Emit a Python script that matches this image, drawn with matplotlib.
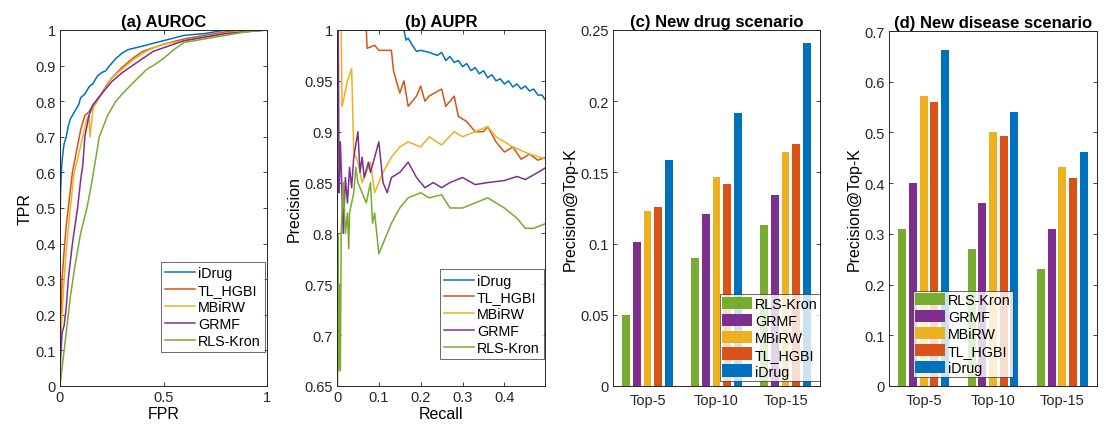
import matplotlib
matplotlib.use("Agg")
import matplotlib.pyplot as plt
import numpy as np

plt.rcParams['font.family'] = ['Liberation Sans', 'DejaVu Sans']

# MATLAB default colours
C_BLUE = (0.0, 0.447, 0.741)
C_ORANGE = (0.85, 0.325, 0.098)
C_YELLOW = (0.929, 0.694, 0.125)
C_PURPLE = (0.494, 0.184, 0.556)
C_GREEN = (0.466, 0.674, 0.188)

# ---------------- ROC data (FPR, TPR) ----------------
roc_idrug_fpr = [0, 0, 0.003, 0.008, 0.015, 0.02, 0.03, 0.04, 0.05, 0.07, 0.09, 0.1, 0.12, 0.14, 0.16, 0.18, 0.2, 0.22, 0.24, 0.27, 0.3, 0.33, 0.4, 0.5, 0.6, 0.7, 0.8, 1.0]
roc_idrug_tpr = [0, 0.45, 0.55, 0.62, 0.66, 0.68, 0.7, 0.73, 0.75, 0.77, 0.79, 0.81, 0.82, 0.84, 0.85, 0.87, 0.88, 0.885, 0.9, 0.92, 0.935, 0.945, 0.955, 0.97, 0.985, 0.99, 1.0, 1.0]

roc_tl_fpr = [0, 0.003, 0.01, 0.02, 0.03, 0.04, 0.05, 0.06, 0.08, 0.1, 0.12, 0.14, 0.16, 0.18, 0.2, 0.23, 0.25, 0.3, 0.35, 0.4, 0.45, 0.5, 0.6, 0.7, 0.8, 1.0]
roc_tl_tpr = [0, 0.15, 0.3, 0.38, 0.45, 0.5, 0.55, 0.6, 0.66, 0.72, 0.76, 0.77, 0.79, 0.805, 0.82, 0.85, 0.865, 0.895, 0.92, 0.94, 0.95, 0.96, 0.975, 0.985, 0.995, 1.0]

roc_mb_fpr = [0, 0, 0.01, 0.02, 0.03, 0.05, 0.068, 0.09, 0.11, 0.13, 0.14, 0.145, 0.16, 0.2, 0.25, 0.3, 0.35, 0.4, 0.45, 0.5, 0.6, 0.7, 0.8, 0.9, 1.0]
roc_mb_tpr = [0, 0.1, 0.2, 0.3, 0.38, 0.5, 0.6, 0.65, 0.7, 0.75, 0.76, 0.7, 0.78, 0.82, 0.865, 0.89, 0.915, 0.935, 0.95, 0.96, 0.97, 0.98, 0.99, 1.0, 1.0]

roc_grmf_fpr = [0, 0.003, 0.01, 0.02, 0.03, 0.04, 0.06, 0.085, 0.1, 0.11, 0.12, 0.14, 0.16, 0.2, 0.25, 0.3, 0.35, 0.4, 0.45, 0.5, 0.6, 0.7, 0.8, 1.0]
roc_grmf_tpr = [0, 0.08, 0.15, 0.17, 0.22, 0.3, 0.4, 0.5, 0.58, 0.62, 0.7, 0.76, 0.79, 0.82, 0.855, 0.88, 0.9, 0.92, 0.94, 0.95, 0.97, 0.98, 0.99, 1.0]

roc_rls_fpr = [0, 0.01, 0.03, 0.05, 0.07, 0.1, 0.13, 0.15, 0.17, 0.19, 0.23, 0.27, 0.3, 0.35, 0.42, 0.45, 0.5, 0.55, 0.6, 0.7, 0.8, 0.9, 1.0]
roc_rls_tpr = [0, 0.05, 0.15, 0.25, 0.33, 0.43, 0.5, 0.56, 0.63, 0.7, 0.76, 0.8, 0.82, 0.85, 0.89, 0.9, 0.92, 0.945, 0.965, 0.975, 0.985, 0.995, 1.0]

# ---------------- PR data (Recall, Precision) ----------------
pr_idrug_rec = [0, 0.16, 0.165, 0.17, 0.18, 0.19, 0.2, 0.22, 0.24, 0.25, 0.26, 0.27, 0.28, 0.29, 0.3, 0.31, 0.32, 0.33, 0.34, 0.35, 0.36, 0.37, 0.38, 0.39, 0.4, 0.41, 0.42, 0.43, 0.44, 0.45, 0.46, 0.47, 0.48, 0.49, 0.5]
pr_idrug_pre = [1.0, 1.0, 0.99, 0.992, 0.985, 0.979, 0.98, 0.978, 0.975, 0.978, 0.97, 0.974, 0.968, 0.97, 0.964, 0.967, 0.96, 0.963, 0.957, 0.96, 0.953, 0.956, 0.95, 0.952, 0.947, 0.95, 0.944, 0.947, 0.942, 0.945, 0.94, 0.942, 0.936, 0.936, 0.93]

pr_tl_rec = [0.0, 0.07, 0.072, 0.09, 0.1, 0.13, 0.135, 0.15, 0.16, 0.17, 0.19, 0.2, 0.21, 0.22, 0.25, 0.26, 0.28, 0.29, 0.31, 0.33, 0.35, 0.36, 0.38, 0.4, 0.42, 0.44, 0.46, 0.48, 0.5]
pr_tl_pre = [1.0, 1.0, 0.982, 0.985, 0.98, 0.98, 0.96, 0.938, 0.95, 0.925, 0.935, 0.945, 0.93, 0.935, 0.942, 0.925, 0.935, 0.915, 0.91, 0.9, 0.9, 0.905, 0.89, 0.88, 0.885, 0.873, 0.878, 0.872, 0.875]

pr_mb_rec = [0.01, 0.012, 0.015, 0.025, 0.035, 0.04, 0.05, 0.06, 0.07, 0.08, 0.09, 0.1, 0.11, 0.13, 0.15, 0.17, 0.2, 0.22, 0.25, 0.28, 0.3, 0.33, 0.36, 0.38, 0.42, 0.46, 0.5]
pr_mb_pre = [1.0, 0.925, 0.93, 0.95, 0.962, 0.88, 0.87, 0.85, 0.86, 0.87, 0.84, 0.85, 0.86, 0.875, 0.885, 0.89, 0.885, 0.895, 0.887, 0.9, 0.895, 0.9, 0.905, 0.895, 0.885, 0.878, 0.873]

pr_grmf_rec = [0.003, 0.005, 0.008, 0.015, 0.02, 0.025, 0.03, 0.035, 0.04, 0.05, 0.055, 0.06, 0.065, 0.075, 0.08, 0.09, 0.1, 0.11, 0.12, 0.13, 0.15, 0.17, 0.19, 0.21, 0.23, 0.25, 0.27, 0.3, 0.33, 0.36, 0.4, 0.43, 0.45, 0.48, 0.5]
pr_grmf_pre = [1.0, 0.84, 0.89, 0.8, 0.855, 0.83, 0.865, 0.845, 0.875, 0.9, 0.86, 0.875, 0.855, 0.87, 0.86, 0.875, 0.89, 0.85, 0.84, 0.855, 0.86, 0.87, 0.855, 0.845, 0.85, 0.845, 0.85, 0.855, 0.848, 0.85, 0.852, 0.856, 0.853, 0.86, 0.865]

pr_rls_rec = [0.0, 0.001, 0.002, 0.003, 0.006, 0.008, 0.01, 0.015, 0.02, 0.025, 0.028, 0.03, 0.04, 0.045, 0.05, 0.06, 0.07, 0.08, 0.085, 0.09, 0.1, 0.11, 0.13, 0.15, 0.17, 0.2, 0.22, 0.25, 0.27, 0.3, 0.33, 0.36, 0.38, 0.4, 0.43, 0.45, 0.47, 0.5]
pr_rls_pre = [1.0, 0.65, 0.8, 0.665, 0.75, 0.665, 0.8, 0.85, 0.8, 0.82, 0.785, 0.82, 0.84, 0.865, 0.85, 0.84, 0.83, 0.85, 0.81, 0.82, 0.78, 0.79, 0.81, 0.825, 0.835, 0.84, 0.835, 0.838, 0.825, 0.825, 0.83, 0.835, 0.83, 0.825, 0.815, 0.805, 0.805, 0.81]

# ---------------- Bar data ----------------
bar_groups = ['Top-5', 'Top-10', 'Top-15']
bar_methods = ['RLS-Kron', 'GRMF', 'MBiRW', 'TL_HGBI', 'iDrug']
drug_vals = {
    'RLS-Kron': [0.05, 0.09, 0.113],
    'GRMF': [0.101, 0.121, 0.134],
    'MBiRW': [0.123, 0.147, 0.164],
    'TL_HGBI': [0.126, 0.142, 0.170],
    'iDrug': [0.159, 0.192, 0.241],
}
disease_vals = {
    'RLS-Kron': [0.31, 0.27, 0.231],
    'GRMF': [0.40, 0.36, 0.31],
    'MBiRW': [0.572, 0.50, 0.432],
    'TL_HGBI': [0.56, 0.493, 0.41],
    'iDrug': [0.662, 0.541, 0.462],
}

method_colors = {'iDrug': C_BLUE, 'TL_HGBI': C_ORANGE, 'MBiRW': C_YELLOW,
                 'GRMF': C_PURPLE, 'RLS-Kron': C_GREEN}

fig = plt.figure(figsize=(11.06, 4.31), dpi=100)
W, H = 1106, 431

def add_ax(l, r, t, b):
    return fig.add_axes([l / W, 1 - b / H, (r - l) / W, (b - t) / H])

TICKFS = 10.5
TFS = 12
LFS = 11.5
LEGFS = 10.3

def style(ax):
    ax.tick_params(direction='in', top=True, right=True, length=3, width=0.6,
                   labelsize=TICKFS, colors='#262626', pad=3)
    for s in ax.spines.values():
        s.set_linewidth(0.7)
        s.set_color('#262626')

def line_legend(ax, anchor):
    leg = ax.legend(loc='lower right', bbox_to_anchor=anchor, fontsize=LEGFS,
                    frameon=True, fancybox=False, handlelength=2.1, handletextpad=0.2,
                    borderpad=0.3, labelspacing=0.2, borderaxespad=0.0)
    leg.get_frame().set_edgecolor('#262626')
    leg.get_frame().set_linewidth(0.6)

# (a) AUROC
ax1 = add_ax(60, 267, 31, 387)
ax1.plot(roc_idrug_fpr, roc_idrug_tpr, color=C_BLUE, lw=1.1, label='iDrug')
ax1.plot(roc_tl_fpr, roc_tl_tpr, color=C_ORANGE, lw=1.1, label='TL_HGBI')
ax1.plot(roc_mb_fpr, roc_mb_tpr, color=C_YELLOW, lw=1.1, label='MBiRW')
ax1.plot(roc_grmf_fpr, roc_grmf_tpr, color=C_PURPLE, lw=1.1, label='GRMF')
ax1.plot(roc_rls_fpr, roc_rls_tpr, color=C_GREEN, lw=1.1, label='RLS-Kron')
ax1.set_xlim(0, 1)
ax1.set_ylim(0, 1)
ax1.set_xticks([0, 0.5, 1])
ax1.set_xticklabels(['0', '0.5', '1'])
ax1.set_yticks(np.arange(0, 1.01, 0.1))
ax1.set_yticklabels(['0', '0.1', '0.2', '0.3', '0.4', '0.5', '0.6', '0.7', '0.8', '0.9', '1'])
ax1.set_xlabel('FPR', fontsize=LFS, labelpad=1)
ax1.set_ylabel('TPR', fontsize=LFS, labelpad=2)
ax1.set_title('(a) AUROC', fontsize=TFS, fontweight='bold', pad=3)
style(ax1)
line_legend(ax1, (0.99, 0.095))

# (b) AUPR
ax2 = add_ax(337, 545, 31, 387)
ax2.plot(pr_idrug_rec, pr_idrug_pre, color=C_BLUE, lw=1.1, label='iDrug')
ax2.plot(pr_tl_rec, pr_tl_pre, color=C_ORANGE, lw=1.1, label='TL_HGBI')
ax2.plot(pr_mb_rec, pr_mb_pre, color=C_YELLOW, lw=1.1, label='MBiRW')
ax2.plot(pr_grmf_rec, pr_grmf_pre, color=C_PURPLE, lw=1.1, label='GRMF')
ax2.plot(pr_rls_rec, pr_rls_pre, color=C_GREEN, lw=1.1, label='RLS-Kron')
ax2.set_xlim(0, 0.497)
ax2.set_ylim(0.65, 1)
ax2.set_xticks([0, 0.1, 0.2, 0.3, 0.4])
ax2.set_xticklabels(['0', '0.1', '0.2', '0.3', '0.4'])
ax2.set_yticks([0.65, 0.7, 0.75, 0.8, 0.85, 0.9, 0.95, 1.0])
ax2.set_yticklabels(['0.65', '0.7', '0.75', '0.8', '0.85', '0.9', '0.95', '1'])
ax2.set_xlabel('Recall', fontsize=LFS, labelpad=1)
ax2.set_ylabel('Precision', fontsize=LFS, labelpad=2)
ax2.set_title('(b) AUPR', fontsize=TFS, fontweight='bold', pad=3)
style(ax2)
line_legend(ax2, (0.995, 0.075))

def bar_panel(ax, vals, ylim, yticks, yticklabels, title, loc, legend_anchor):
    x = np.arange(1, len(bar_groups) + 1)
    n = len(bar_methods)
    step = 0.154
    width = 0.115
    for i, m in enumerate(bar_methods):
        ax.bar(x + (i - (n - 1) / 2) * step, vals[m], width=width,
               color=method_colors[m], label=m, edgecolor='none')
    ax.set_xlim(0.5, 3.5)
    ax.set_ylim(*ylim)
    ax.set_xticks(x)
    ax.set_xticklabels(bar_groups)
    ax.set_yticks(yticks)
    ax.set_yticklabels(yticklabels)
    ax.set_ylabel('Precision@Top-K', fontsize=LFS, labelpad=2)
    ax.set_title(title, fontsize=TFS, fontweight='bold', pad=3)
    style(ax)
    ax.tick_params(axis='x', length=0, pad=5)
    leg = ax.legend(loc=loc, bbox_to_anchor=legend_anchor, fontsize=LEGFS,
                    frameon=True, fancybox=False, handlelength=2.1, handleheight=0.95,
                    handletextpad=0.2, borderpad=0.15, labelspacing=0.2,
                    borderaxespad=0.0)
    leg.get_frame().set_edgecolor('#262626')
    leg.get_frame().set_linewidth(0.6)

ax3 = add_ax(613, 820, 31, 387)
bar_panel(ax3, drug_vals, (0, 0.25), [0, 0.05, 0.1, 0.15, 0.2, 0.25],
          ['0', '0.05', '0.1', '0.15', '0.2', '0.25'], '(c) New drug scenario',
          'lower right', (1.0, 0.015))

ax4 = add_ax(889, 1097, 32, 387)
bar_panel(ax4, disease_vals, (0, 0.7), np.arange(0, 0.71, 0.1),
          ['0', '0.1', '0.2', '0.3', '0.4', '0.5', '0.6', '0.7'],
          '(d) New disease scenario', 'lower left', (0.115, 0.025))

fig.savefig('out.png', dpi=100, facecolor='white')
